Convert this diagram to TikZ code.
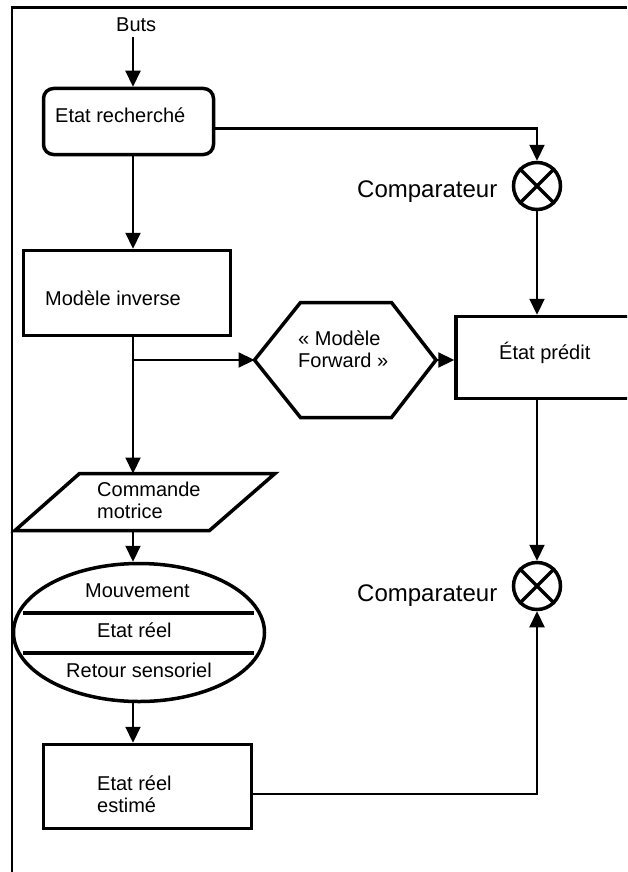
\documentclass[tikz,border=0pt]{standalone}
\usepackage{fontspec}
\setmainfont{Liberation Sans}
\usetikzlibrary{arrows.meta,shapes.geometric}
\begin{document}
\begin{tikzpicture}[x=1pt,y=-1pt,
  lbl/.style={inner sep=0pt, anchor=base west, font=\fontsize{20}{21.5}\selectfont, align=left},
  biglbl/.style={inner sep=0pt, anchor=base west, font=\fontsize{24}{28}\selectfont},
  frameline/.style={line width=2.5pt, line join=miter},
  blockbox/.style={draw, rectangle, line width=3.5pt, inner sep=0pt},
  outline/.style={line width=3.5pt, line join=miter},
  link/.style={line width=2.2pt},
  flow/.style={link, -{Triangle[length=16pt,width=15pt]}},
  comparator/.style={draw, circle, line width=3.5pt, minimum size=47pt, inner sep=0pt}
]
\useasboundingbox (0,0) rectangle (627,872);
\clip (0,0) rectangle (627,872);

% outer frame (left and top sides)
\draw[frameline] (12,872) -- (12,7.5) -- (627,7.5);

% vertical axis of the left column
\coordinate (spine) at (133,0);

% goal and desired state
\node[lbl] (buts) at (116,32) {Buts};
\node[blockbox, rounded corners=10pt, minimum width=170pt, minimum height=66pt] (rech) at (128.5,121.5) {};
\node[lbl] (rechT) at (55,123) {Etat recherché};

% first comparator
\node[comparator] (cmpA) at (537,186) {};
\draw[line width=3.5pt] (cmpA.north east) -- (cmpA.south west) (cmpA.north west) -- (cmpA.south east);
\node[biglbl] (cmpAT) at (357,197) {Comparateur};

% inverse model
\node[blockbox, minimum width=207pt, minimum height=85pt] (inv) at (127,293) {};
\node[lbl] (invT) at (45,305) {Modèle inverse};

% forward model (hexagon)
\coordinate (hexW) at (254.5,360);
\coordinate (hexE) at (436,360);
\draw[outline] (hexW) -- (300.5,302.5) -- (391.5,302.5) -- (hexE) -- (391.5,417.5) -- (300.5,417.5) -- cycle;
\node[lbl] (hexT) at (298,367) {« Modèle\\Forward »};

% predicted state
\node[blockbox, minimum width=184pt, minimum height=82pt] (pred) at (548,357.5) {};
\node[lbl] (predT) at (499,359) {État prédit};

% second comparator
\node[comparator] (cmpB) at (537,586) {};
\draw[line width=3.5pt] (cmpB.north east) -- (cmpB.south west) (cmpB.north west) -- (cmpB.south east);
\node[biglbl] (cmpBT) at (357,601) {Comparateur};

% motor command (parallelogram)
\coordinate (paraN) at (133,473.5);
\coordinate (paraS) at (133,530.5);
\draw[outline] (79.5,473.5) -- (275,473.5) -- (209.5,530.5) -- (15,530.5) -- cycle;
\node[lbl] (paraT) at (97,518) {Commande\\motrice};

% movement / real state / sensory feedback
\node[draw, ellipse, line width=3.5pt, minimum width=251pt, minimum height=138pt, inner sep=0pt] (move) at (139,632.5) {};
\draw[line width=3.5pt] (23,613) -- (254,613) (23,653) -- (254,653);
\node[lbl] (moveA) at (85,597) {Mouvement};
\node[lbl] (moveB) at (97,637) {Etat réel};
\node[lbl] (moveC) at (66,677) {Retour sensoriel};

% estimated real state
\node[blockbox, minimum width=208pt, minimum height=84pt] (est) at (147.5,786.5) {};
\node[lbl] (estT) at (97,812) {Etat réel\\estimé};

% connectors
\draw[flow] ([yshift=-5pt]buts.south -| spine) -- (rech.north -| spine);
\draw[flow] (rech.south -| spine) -- (inv.north -| spine);
\draw[flow] ([yshift=-7pt]rech.east) -| (cmpA.north);
\draw[flow] (cmpA.south) -- (cmpA.south |- pred.north);
\draw[flow] (inv.south -| spine) -- (paraN);
\draw[flow] (spine |- hexW) -- (hexW);
\draw[flow] (hexE) -- (hexE -| pred.west);
\draw[flow] (cmpA.south |- pred.south) -- (cmpB.north);
\draw[flow] (paraS) -- (move.north -| spine);
\draw[flow] (move.south -| spine) -- (est.north -| spine);
\draw[flow] ([yshift=-7.5pt]est.east) -| (cmpB.south);
\end{tikzpicture}
\end{document}
